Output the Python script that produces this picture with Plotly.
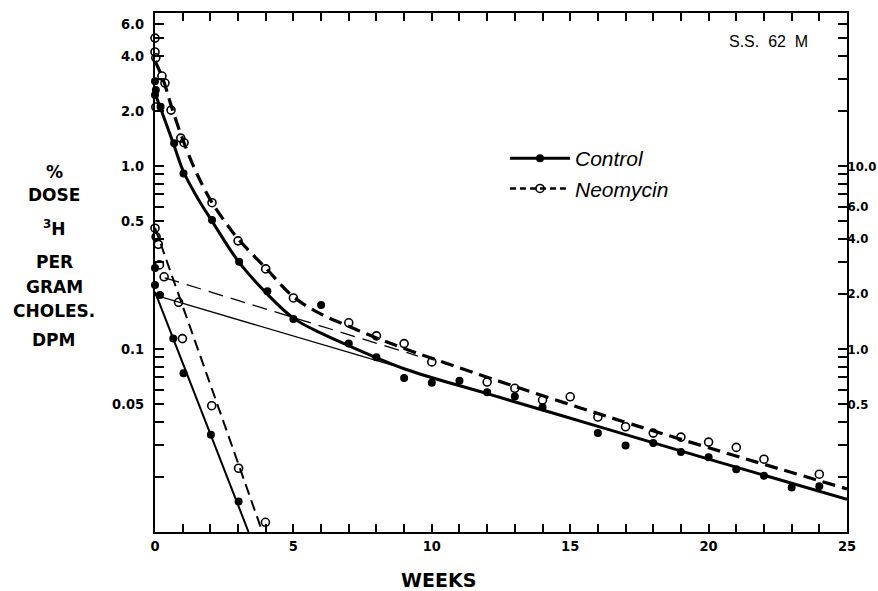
import plotly.graph_objects as go

# ---------------- data ----------------
# Control: total-phase observations (left scale)
ctrl_t = [0, 0.03, 0, 0.2, 0.69, 1.03, 2.06, 3.04, 4.06, 5.0, 6.0, 7, 8, 9, 10, 11, 12, 13, 14,
          16, 17, 18, 19, 20, 21, 22, 23, 24]
ctrl_v = [2.9, 2.6, 2.44, 2.11, 1.33, 0.91, 0.507, 0.30, 0.207, 0.146, 0.174, 0.107, 0.090, 0.0695,
          0.0654, 0.067, 0.058, 0.055, 0.048, 0.0347, 0.0297, 0.0306, 0.0274, 0.0256, 0.0220,
          0.0203, 0.0175, 0.0178]
# Neomycin: total-phase observations (left scale)
neo_t = [0, 0, 0.03, 0.25, 0.36, 0.03, 0.58, 0.93, 1.05, 2.06, 3.0, 4.0, 5.0, 7, 8, 9, 10, 12, 13,
         14, 15, 16, 17, 18, 19, 20, 21, 22, 24]
neo_v = [5.0, 4.2, 3.9, 3.1, 2.84, 2.1, 2.02, 1.42, 1.34, 0.63, 0.39, 0.274, 0.19, 0.139, 0.118,
         0.107, 0.085, 0.066, 0.061, 0.0526, 0.0548, 0.0425, 0.0376, 0.0347, 0.033, 0.031, 0.029,
         0.025, 0.0207]

# Fast-component (peeled) points, right scale
ctrl_fast_pt_t = [0, 0, 0.18, 0.66, 1.03, 2.02, 3.02]
ctrl_fast_pt_v = [2.77, 2.24, 1.97, 1.14, 0.737, 0.34, 0.147]
neo_fast_pt_t = [0, 0.04, 0.12, 0.16, 0.33, 0.85, 0.99, 2.05, 3.02, 3.99]
neo_fast_pt_v = [4.57, 4.1, 3.73, 2.88, 2.48, 1.80, 1.14, 0.49, 0.223, 0.113]

# Fitted total curves (left scale)
ctrl_curve_t = [0, 0.18, 0.66, 1.03, 1.51, 2.06, 3.02, 4.05, 5.01, 6.0, 6.95, 9, 12, 16, 20, 25]
ctrl_curve_v = [2.5, 2.11, 1.33, 0.93, 0.68, 0.50, 0.30, 0.200, 0.147, 0.122, 0.105, 0.078,
                0.057, 0.0378, 0.025, 0.0151]
neo_curve_t = [0, 0.3, 0.6, 1.03, 1.51, 2.06, 2.66, 3.0, 4.0, 5.0, 6.0, 7.0, 8.0, 10.0, 16.5, 25]
neo_curve_v = [3.75, 2.95, 2.1, 1.36, 0.91, 0.63, 0.466, 0.40, 0.277, 0.193, 0.155, 0.133, 0.115,
               0.089, 0.042, 0.0172]

# Straight components (slow on left scale, fast on right scale)
ctrl_slow_t = [0, 9]
ctrl_slow_v = [0.197, 0.078]
neo_slow_t = [0.35, 9.5]
neo_slow_v = [0.245, 0.0915]
ctrl_fast_t = [0, 3.38]
ctrl_fast_v = [2.05, 0.1]
neo_fast_t = [0, 3.88]
neo_fast_v = [4.6, 0.1]

x_tickvals = list(range(0, 26))
x_ticktext = [str(v) if v % 5 == 0 else "" for v in x_tickvals]

left_tickvals = [0.02, 0.03, 0.04, 0.05, 0.06, 0.07, 0.08, 0.09,
                 0.1, 0.2, 0.3, 0.4, 0.5, 0.6, 0.7, 0.8, 0.9,
                 1, 2, 3, 4, 5, 6]
left_labels = {0.05: "0.05", 0.1: "0.1", 0.5: "0.5", 1: "1.0", 2: "2.0", 4: "4.0", 6: "6.0"}
right_tickvals = [0.2, 0.3, 0.4, 0.5, 0.6, 0.7, 0.8, 0.9,
                  1, 2, 3, 4, 5, 6, 7, 8, 9,
                  10, 20, 30, 40, 50, 60]
right_labels = {0.5: "0.5", 1: "1.0", 2: "2.0", 4: "4.0", 6: "6.0", 10: "10.0"}

# ---------------- figure ----------------
W, H = 878, 591
L, R, T, B = 155, 31, 13, 59
TICKFONT = dict(family="Liberation Sans Narrow, DejaVu Sans Condensed, Arial Narrow, Liberation Sans, sans-serif",
                size=14.5, color="black", weight="bold")
RTICKFONT = dict(TICKFONT, size=13)
LABELFONT = dict(family="DejaVu Sans, sans-serif", size=17, color="black", weight="bold")

fig = go.Figure()

# straight component lines
fig.add_trace(go.Scatter(x=ctrl_slow_t, y=ctrl_slow_v, mode="lines",
                         line=dict(color="black", width=1.3), showlegend=False))
fig.add_trace(go.Scatter(x=neo_slow_t, y=neo_slow_v, mode="lines",
                         line=dict(color="black", width=1.3, dash="15px,8px"), showlegend=False))
fig.add_trace(go.Scatter(x=ctrl_fast_t, y=ctrl_fast_v, mode="lines", yaxis="y2",
                         line=dict(color="black", width=2), showlegend=False))
fig.add_trace(go.Scatter(x=neo_fast_t, y=neo_fast_v, mode="lines", yaxis="y2",
                         line=dict(color="black", width=2, dash="11px,6px"), showlegend=False))

# total curves
fig.add_trace(go.Scatter(x=ctrl_curve_t, y=ctrl_curve_v, mode="lines",
                         line=dict(color="black", width=3, shape="spline", smoothing=1.0),
                         showlegend=False))
fig.add_trace(go.Scatter(x=neo_curve_t, y=neo_curve_v, mode="lines",
                         line=dict(color="black", width=3.2, dash="13px,7px",
                                   shape="spline", smoothing=1.0),
                         showlegend=False))

# points
filled = dict(symbol="circle", size=8, color="black")
opened = dict(symbol="circle-open", size=8, color="black", line=dict(width=1.6, color="black"))
fig.add_trace(go.Scatter(x=ctrl_t, y=ctrl_v, mode="markers", marker=filled,
                         cliponaxis=False, showlegend=False))
fig.add_trace(go.Scatter(x=neo_t, y=neo_v, mode="markers", marker=opened,
                         cliponaxis=False, showlegend=False))
fig.add_trace(go.Scatter(x=ctrl_fast_pt_t, y=ctrl_fast_pt_v, mode="markers", yaxis="y2",
                         marker=filled, cliponaxis=False, showlegend=False))
fig.add_trace(go.Scatter(x=neo_fast_pt_t, y=neo_fast_pt_v, mode="markers", yaxis="y2",
                         marker=opened, cliponaxis=False, showlegend=False))

# legend entries
fig.add_trace(go.Scatter(x=[None], y=[None], mode="lines+markers", name="Control",
                         line=dict(color="black", width=3), marker=filled))
fig.add_trace(go.Scatter(x=[None], y=[None], mode="lines+markers", name="Neomycin",
                         line=dict(color="black", width=2.5, dash="6px,4px"), marker=opened))

fig.update_layout(
    width=W, height=H,
    margin=dict(l=L, r=R, t=T, b=B, autoexpand=False),
    paper_bgcolor="white", plot_bgcolor="white",
    showlegend=True,
    legend=dict(x=(505 - L) / (W - L - R), y=(H - B - 138) / (H - T - B),
                xanchor="left", yanchor="top", bgcolor="rgba(0,0,0,0)",
                font=dict(family="Liberation Sans, Arial, sans-serif", size=21,
                          color="black", style="italic"),
                tracegroupgap=0, itemwidth=60),
    xaxis=dict(range=[0, 25], tickmode="array", tickvals=x_tickvals, ticktext=x_ticktext,
               ticks="inside", ticklen=8, tickwidth=1.6, tickcolor="black",
               showline=True, linewidth=2, linecolor="black", mirror="ticks",
               showgrid=False, zeroline=False, tickfont=TICKFONT, automargin=False),
    yaxis=dict(type="log", range=[-2, 0.836], tickmode="array", tickvals=left_tickvals,
               ticktext=[left_labels.get(v, "") for v in left_tickvals],
               ticks="inside", ticklen=9, tickwidth=1.6, tickcolor="black",
               showline=True, linewidth=2, linecolor="black",
               showgrid=False, zeroline=False, tickfont=TICKFONT, automargin=False,
               ticklabelstandoff=6),
    yaxis2=dict(type="log", range=[-1, 1.836], overlaying="y", side="right",
                tickmode="array", tickvals=right_tickvals,
                ticktext=[right_labels.get(v, "") for v in right_tickvals],
                ticks="inside", ticklen=9, tickwidth=1.6, tickcolor="black",
                showline=True, linewidth=2, linecolor="black",
                showgrid=False, zeroline=False, tickfont=RTICKFONT, automargin=False,
                ticklabelstandoff=-4),
)


def px_x(p):
    return (p - L) / (W - L - R)


def px_y(p):
    return (H - B - p) / (H - T - B)


ann = []
ann.append(dict(text="WEEKS", x=px_x(438), y=px_y(580), xref="paper", yref="paper",
                showarrow=False, xanchor="center", yanchor="middle",
                font=dict(family="DejaVu Sans, sans-serif", size=19, color="black",
                          weight="bold")))
ann.append(dict(text="S.S.\u00a0\u00a062\u00a0\u00a0M", x=px_x(768), y=px_y(42),
                xref="paper", yref="paper", showarrow=False, xanchor="center", yanchor="middle",
                font=dict(family="Liberation Sans, Arial, sans-serif", size=16, color="black")))
ylab = [("%", 172), ("DOSE", 195), ("<sup>3</sup>H", 228), ("PER", 262), ("GRAM", 287),
        ("CHOLES.", 311), ("DPM", 340)]
for txt, yy in ylab:
    ann.append(dict(text=txt, x=px_x(54), y=px_y(yy), xref="paper", yref="paper",
                    showarrow=False, xanchor="center", yanchor="middle", font=LABELFONT))
fig.update_layout(annotations=ann)

fig.write_html("out.html", config={"displayModeBar": False},
               post_script="document.body.style.margin='0';document.body.style.overflow='hidden';")
